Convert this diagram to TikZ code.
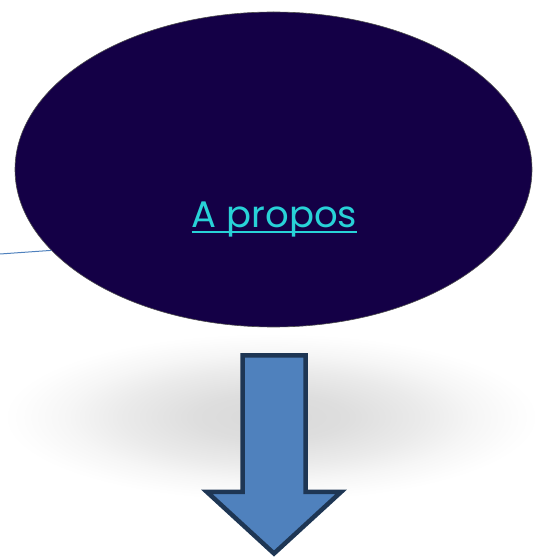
\documentclass[tikz,border=0pt]{standalone}
\usepackage{fontspec}
\setmainfont{Poppins}
\usetikzlibrary{shapes.geometric, positioning, calc}
\definecolor{cNavy}{RGB}{20,0,70}
\definecolor{cCyan}{RGB}{40,210,215}
\definecolor{cBlue}{RGB}{79,129,189}
\definecolor{cEdge}{RGB}{30,54,84}
\pgfdeclareradialshading{blurshadow}{\pgfpoint{0bp}{0bp}}{color(0bp)=(black!15); color(7bp)=(black!13); color(14bp)=(black!8); color(19bp)=(black!3.5); color(23bp)=(black!1); color(25bp)=(white); color(50bp)=(white)}
\tikzset{
	bubble/.style  ={ellipse, draw=black!70, line width=0.6pt, fill=cNavy, minimum width=517pt, minimum height=315pt, inner sep=0pt},
	linktext/.style={text=cCyan, font=\fontsize{37}{42}\selectfont, inner sep=0pt, anchor=base},
	connector/.style={cBlue, line width=1pt},
	downarrow/.style={draw=cEdge, line width=4.5pt, fill=cBlue, line join=miter},
}
\begin{document}
\begin{tikzpicture}[x=1pt, y=1pt]
	\useasboundingbox (0,0) rectangle (542,558);
	% soft shadow behind the arrow
	\shade[shading=blurshadow] (271,141) ellipse [x radius=268, y radius=84];
	\node[bubble] (bubble) at (273.5,388.5) {};
	\node[linktext] (apropos) at (274.5,330) {A propos};
	\draw[cCyan, line width=2.3pt] ($(apropos.base west)+(0,-4)$) -- ($(apropos.base east)+(0,-4)$);
	\coordinate (lnk) at (0,304);
	\draw[connector] (lnk) -- (bubble.200);
	% big arrow pointing down
	\draw[downarrow] (242.5,202.5) -- (305.5,202.5) -- (305.5,66) -- (341,66) -- (274,4.5) -- (207,66) -- (242.5,66) -- cycle;
\end{tikzpicture}
\end{document}
